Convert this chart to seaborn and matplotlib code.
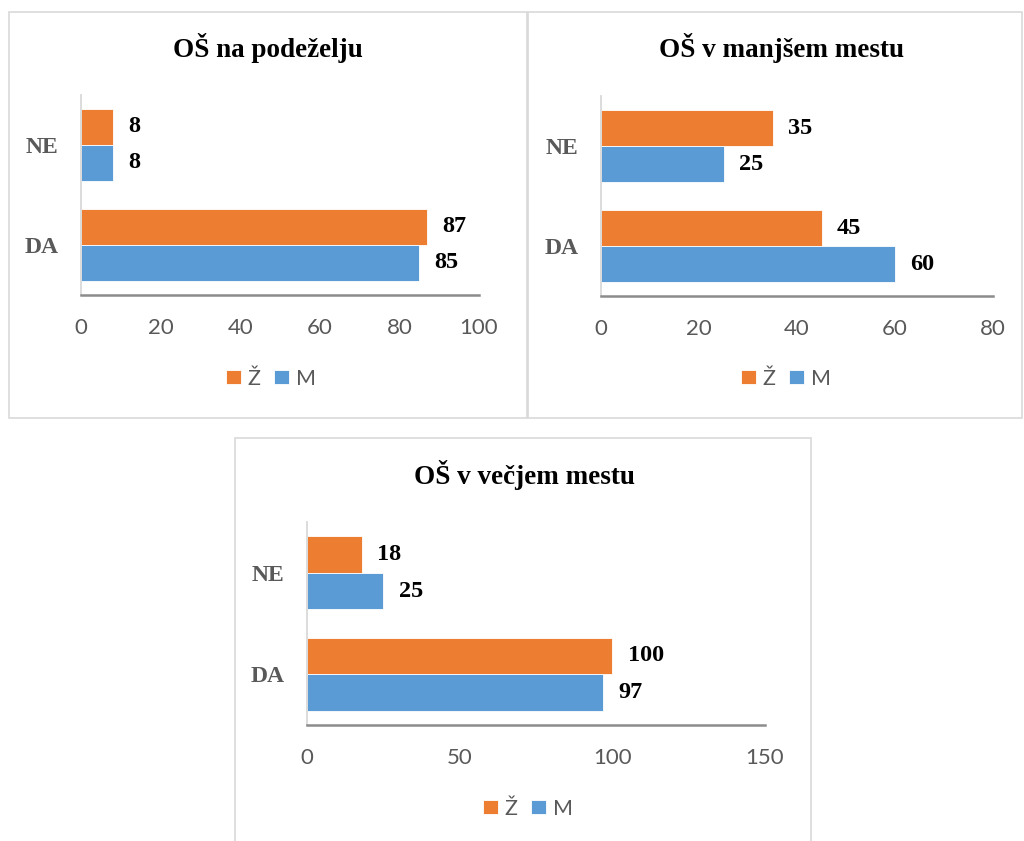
import matplotlib
matplotlib.use("Agg")
import matplotlib.pyplot as plt
from matplotlib.patches import Rectangle
import seaborn as sns
import pandas as pd

# Survey answers by gender for three school settings
odgovori = ["NE", "DA"]
spol = ["Ž", "M"]

podezelje_z = [8, 87]
podezelje_m = [8, 85]

manjse_z = [35, 45]
manjse_m = [25, 60]

vecje_z = [18, 100]
vecje_m = [25, 97]

naslovi = ["OŠ na podeželju", "OŠ v manjšem mestu", "OŠ v večjem mestu"]
x_meje = [100, 80, 150]
x_koraki = [20, 20, 50]

barve = {"Ž": "#ED7D31", "M": "#5B9BD5"}

sns.set_theme(style="white")
plt.rcParams["font.family"] = ["Lato", "DejaVu Sans"]

W, H = 1024, 841
fig = plt.figure(figsize=(W / 100, H / 100), dpi=100)
fig.patch.set_facecolor("white")


def fx(px):
    return px / W


def fy(py):
    return 1 - py / H


# panel frames: (left, top, right, bottom) in pixels
okvirji = [(9, 12, 527, 418), (528, 12, 1022, 418), (235, 438, 811, 860)]
for l, t, r, b in okvirji:
    fig.add_artist(Rectangle((fx(l), fy(b)), fx(r) - fx(l), fy(t) - fy(b),
                             transform=fig.transFigure, facecolor="none",
                             edgecolor="#D9D9D9", lw=1.2, zorder=0))

# plot areas: (left, top, right, bottom) in pixels
obmocja = [(81, 95, 479, 295), (601, 96, 993, 296), (307, 522, 765, 725)]
naslov_poz = [(268, 48), (782, 48), (524, 475)]
legenda_poz = [(271, 379), (786, 379), (528, 809)]

podatki = [(podezelje_z, podezelje_m), (manjse_z, manjse_m), (vecje_z, vecje_m)]

for i, ((z_vals, m_vals), (l, t, r, b)) in enumerate(zip(podatki, obmocja)):
    df = pd.DataFrame({
        "odgovor": odgovori * 2,
        "spol": ["Ž"] * len(odgovori) + ["M"] * len(odgovori),
        "vrednost": list(z_vals) + list(m_vals),
    })
    ax = fig.add_axes([fx(l), fy(b), fx(r) - fx(l), fy(t) - fy(b)])
    sns.barplot(data=df, y="odgovor", x="vrednost", hue="spol",
                order=odgovori, hue_order=spol, palette=barve,
                orient="h", width=0.72, ax=ax, edgecolor="white",
                linewidth=0.6, saturation=1)
    handles, labels = ax.get_legend_handles_labels()
    if ax.get_legend() is not None:
        ax.get_legend().remove()

    for cont in ax.containers:
        ax.bar_label(cont, fmt="%d", padding=11, fontsize=17.5,
                     fontweight="bold", family="Liberation Serif",
                     color="black")

    ax.set_xlim(0, x_meje[i])
    ax.set_ylim(1.5, -0.5)
    ax.set_xticks(range(0, x_meje[i] + 1, x_koraki[i]))
    ax.set_xlabel("")
    ax.set_ylabel("")
    ax.tick_params(axis="x", length=0, pad=16.5, labelsize=16,
                   labelcolor="#595959")
    ax.tick_params(axis="y", length=0, pad=16, labelsize=17,
                   labelcolor="#595959")
    for lab in ax.get_yticklabels():
        lab.set_family("Liberation Serif")
        lab.set_fontweight("bold")
    for s in ["top", "right"]:
        ax.spines[s].set_visible(False)
    ax.spines["left"].set_color("#D9D9D9")
    ax.spines["left"].set_linewidth(1.3)
    ax.spines["bottom"].set_color("#8C8C8C")
    ax.spines["bottom"].set_linewidth(1.8)
    ax.grid(False)
    ax.set_facecolor("none")

    tx, ty = naslov_poz[i]
    fig.text(fx(tx), fy(ty), naslovi[i], ha="center", va="center",
             fontsize=19.5, fontweight="bold", family="Liberation Serif",
             color="black")

    lx, ly = legenda_poz[i]
    leg = fig.legend(handles, labels, loc="center",
                     bbox_to_anchor=(fx(lx), fy(ly)), ncol=2, frameon=False,
                     fontsize=15.5, handlelength=0.68, handleheight=0.62,
                     handletextpad=0.3, columnspacing=0.65, borderpad=0)
    for txt in leg.get_texts():
        txt.set_color("#595959")

fig.savefig("out.png", dpi=100, facecolor="white")
